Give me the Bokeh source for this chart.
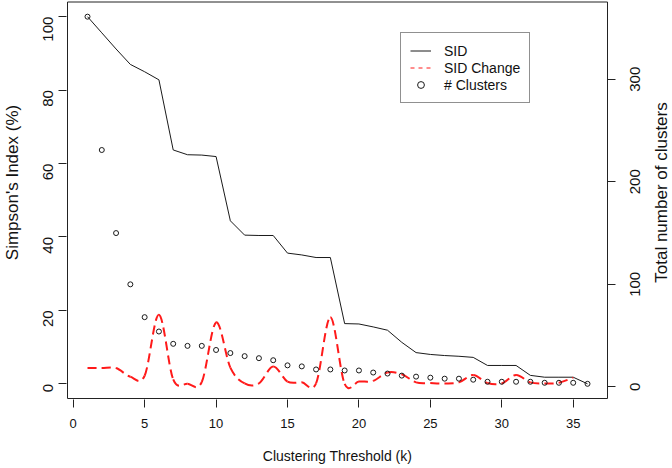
import math
from bokeh.plotting import figure
from bokeh.models import (Range1d, LinearAxis, FixedTicker, Legend, LegendItem,
                          ColumnDataSource, Label, BoxAnnotation)
from bokeh.core.properties import value
from bokeh.embed import file_html
from bokeh.resources import INLINE

# ---------------- data ----------------
threshold = list(range(1, 37))
sid = [100, 95.6, 91.2, 87.0, 85.0, 82.8, 63.7, 62.4, 62.3, 61.9,
       44.4, 40.5, 40.4, 40.4, 35.6, 35.1, 34.4, 34.4, 16.4, 16.3,
       15.5, 14.6, 11.3, 8.5, 8.0, 7.7, 7.5, 7.2, 5.0, 5.0,
       5.0, 2.3, 1.8, 1.8, 1.8, 0.0]
change_k = list(range(1, 36))
sid_change = [4.3, 4.3, 4.3, 1.9, 2.2, 18.8, 1.2, 0.0, 0.5, 16.7,
              4.4, 0.1, 0.1, 4.7, 0.6, 0.4, 0.1, 18.1, 0.0, 0.6,
              0.8, 3.1, 2.6, 0.4, 0.2, 0.1, 0.4, 2.4, 0.2, 0.1,
              2.4, 0.4, 0.1, 0.3, 1.7]
clusters = [361, 231, 150, 100, 68, 54, 42, 40, 40, 36,
            33, 30, 28, 26, 21, 20, 17, 17, 16, 16,
            14, 13, 11, 10, 9, 8, 8, 7, 5, 5,
            5, 5, 4, 4, 4, 3]
x_ticks = [0, 5, 10, 15, 20, 25, 30, 35]
left_ticks = [0, 20, 40, 60, 80, 100]
right_ticks = [0, 100, 200, 300]
right_tick_labels = ["0", "100", "200", "300"]

FONT = "Liberation Sans"
W, H = 672, 468
# pixel layout (R-style plot box with 4% padding of the data range);
# the Bokeh frame covers the whole canvas and the axes are pinned to the box
BOX_LEFT, BOX_RIGHT, BOX_TOP, BOX_BOT = 67.0, 607.0, 1.5, 398.0
LEFT_AXIS_PX, BOTTOM_AXIS_PX = 66, 399
RIGHT_LABEL_PX_X = 634
LEFT_TITLE_PX = (12, 182)
RIGHT_TITLE_PX = (661, 192)
X_TITLE_PX = (337, 455)


def padded(vals):
    lo, hi = min(vals), max(vals)
    r = hi - lo
    return lo - 0.04 * r, hi + 0.04 * r


def inv(lo, hi, pa, pb):
    """pixel -> data for a box where value lo sits at pa and hi at pb"""
    return lambda px: lo + (px - pa) * (hi - lo) / (pb - pa)


xlo, xhi = padded(threshold)
ylo, yhi = padded([0, 100])
clo, chi = padded(clusters)
vx = inv(xlo, xhi, BOX_LEFT, BOX_RIGHT)
vy = inv(ylo, yhi, BOX_BOT, BOX_TOP)
vc = inv(clo, chi, BOX_BOT, BOX_TOP)

p = figure(width=W, height=H, output_backend="svg", toolbar_location=None,
           x_range=Range1d(vx(0), vx(W)), y_range=Range1d(vy(H), vy(0)),
           x_axis_type=None, y_axis_type=None,
           min_border_left=0, min_border_right=0,
           min_border_top=0, min_border_bottom=0)
p.extra_y_ranges = {"clusters": Range1d(vc(H), vc(0)),
                    "legend_proxy": Range1d(1000, 1001)}
p.background_fill_color = "white"
p.border_fill_color = "white"
p.outline_line_color = None

# plot box
p.add_layout(BoxAnnotation(left=xlo, right=xhi, bottom=ylo, top=yhi,
                           fill_alpha=0, line_color="#222222", line_width=1,
                           line_alpha=1))

# SID line
r_sid = p.line(threshold, sid, line_color="#1a1a1a", line_width=1)

# SID change: smooth dashed curve through the read points (Catmull-Rom -> Bezier)
n = len(change_k)
x0, y0, x1, y1, cx0, cy0, cx1, cy1 = ([] for _ in range(8))
for i in range(n - 1):
    pm = max(i - 1, 0)
    pp = min(i + 2, n - 1)
    x0.append(change_k[i]); y0.append(sid_change[i])
    x1.append(change_k[i + 1]); y1.append(sid_change[i + 1])
    cx0.append(change_k[i] + (change_k[i + 1] - change_k[pm]) / 6)
    cy0.append(sid_change[i] + (sid_change[i + 1] - sid_change[pm]) / 6)
    cx1.append(change_k[i + 1] - (change_k[pp] - change_k[i]) / 6)
    cy1.append(sid_change[i + 1] - (sid_change[pp] - sid_change[i]) / 6)
src = ColumnDataSource(dict(x0=x0, y0=y0, x1=x1, y1=y1,
                            cx0=cx0, cy0=cy0, cx1=cx1, cy1=cy1))
p.bezier(x0="x0", y0="y0", x1="x1", y1="y1", cx0="cx0", cy0="cy0",
         cx1="cx1", cy1="cy1", source=src, line_color="#ff1a1a",
         line_width=2, line_dash="9 5")
# legend proxy (thin dashed sample, as in the reference legend); its range
# lies outside the view so only the legend sample is visible
r_change_legend = p.line(change_k, sid_change, y_range_name="legend_proxy",
                         line_color="#ff1a1a", line_width=1, line_dash="4 4")

# clusters on the right axis
r_cl = p.scatter(threshold, clusters, y_range_name="clusters", marker="circle",
                 size=5, fill_color=None, line_color="#1a1a1a", line_width=1)


def style_axis(ax, label_size, tick_len, label_standoff):
    ax.axis_line_color = None
    ax.major_tick_line_color = "#222222"
    ax.minor_tick_line_color = None
    ax.major_tick_in = 0
    ax.major_tick_out = tick_len
    ax.major_label_text_font = FONT
    ax.major_label_text_font_size = label_size
    ax.major_label_text_color = "#111111"
    ax.major_label_standoff = label_standoff


# bottom axis pinned just under the box
xa = LinearAxis(ticker=FixedTicker(ticks=x_ticks), fixed_location=vy(BOTTOM_AXIS_PX))
xa.bounds = (min(x_ticks), max(x_ticks))
style_axis(xa, "13px", 8, 11)
p.add_layout(xa, "below")

# left axis pinned to the box edge
ya = LinearAxis(ticker=FixedTicker(ticks=left_ticks), fixed_location=vx(LEFT_AXIS_PX))
ya.bounds = (min(left_ticks), max(left_ticks))
ya.major_label_orientation = math.pi / 2
style_axis(ya, "15px", 8, 10)
p.add_layout(ya, "left")

# right axis: ticks on the box edge; labels drawn as rotated text
ra = LinearAxis(y_range_name="clusters", ticker=FixedTicker(ticks=right_ticks),
                fixed_location=xhi,
                major_label_overrides={t: "" for t in right_ticks})
ra.bounds = (min(right_ticks), max(right_ticks))
style_axis(ra, "15px", 8, 10)
ra.axis_line_color = "#222222"
p.add_layout(ra, "right")

p.text(x=[vx(RIGHT_LABEL_PX_X)] * len(right_ticks), y=right_ticks,
       text=right_tick_labels, y_range_name="clusters", angle=math.pi / 2,
       text_align="center", text_baseline="middle", text_font=value(FONT),
       text_font_size="15px", text_color="#111111")

# axis titles
def title(text, px, angle, size):
    p.add_layout(Label(x=vx(px[0]), y=vy(px[1]), text=text, angle=angle,
                       text_align="center", text_baseline="middle",
                       text_font=FONT, text_font_size=size,
                       text_color="#111111"))

title("Clustering Threshold (k)", X_TITLE_PX, 0, "14px")
title("Simpson's Index (%)", LEFT_TITLE_PX, math.pi / 2, "17px")
title("Total number of clusters", RIGHT_TITLE_PX, math.pi / 2, "17px")

# legend
legend = Legend(items=[LegendItem(label="SID", renderers=[r_sid]),
                       LegendItem(label="SID Change", renderers=[r_change_legend]),
                       LegendItem(label="# Clusters", renderers=[r_cl])],
                location=(400, H - 103))
legend.label_text_font = FONT
legend.label_text_font_size = "14px"
legend.label_text_color = "#111111"
legend.border_line_color = "#222222"
legend.border_line_width = 1
legend.background_fill_color = "white"
legend.background_fill_alpha = 1.0
legend.padding = 9
legend.spacing = 0
legend.margin = 0
legend.glyph_width = 21
legend.glyph_height = 17
legend.label_height = 17
legend.label_standoff = 13
p.add_layout(legend)

open("out.html", "w").write(file_html(p, INLINE))
